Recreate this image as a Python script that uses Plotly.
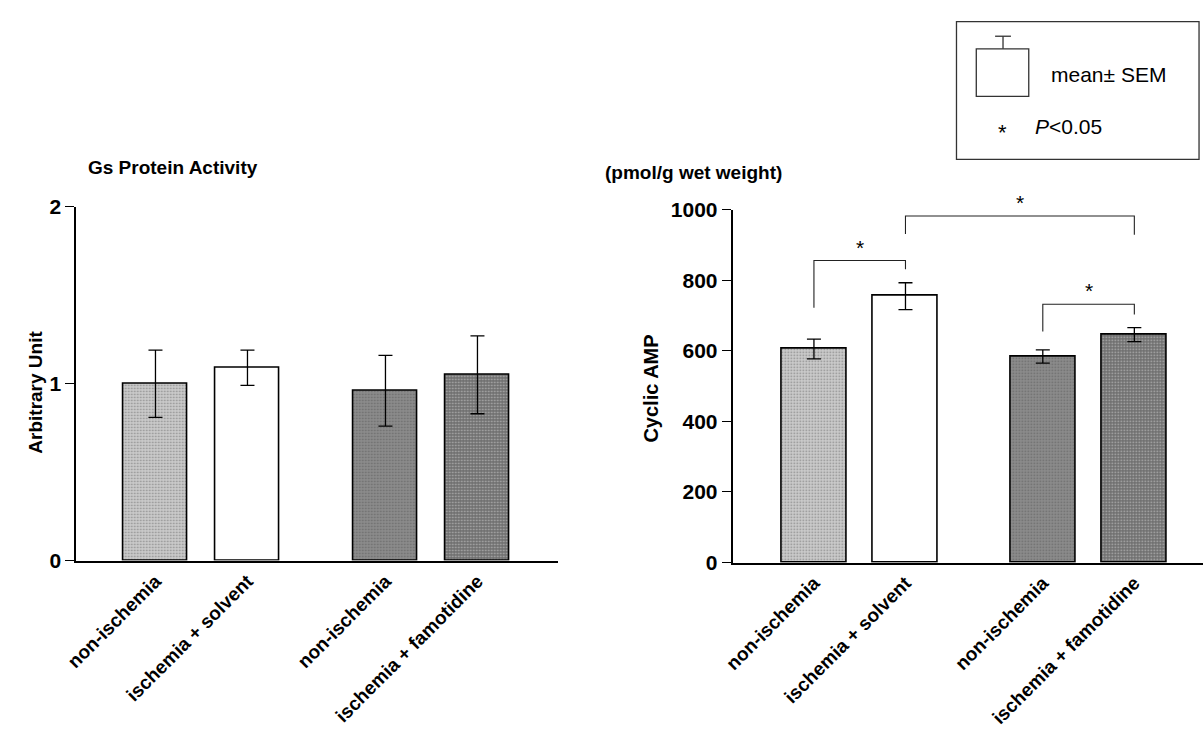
import plotly.graph_objects as go

# ---------------- data ----------------
categories = ["non-ischemia", "ischemia + solvent", "non-ischemia", "ischemia + famotidine"]
group_of_bar = [0, 0, 1, 1]

gs_mean = [1.00, 1.09, 0.96, 1.05]
gs_sem = [0.19, 0.10, 0.20, 0.22]

camp_mean = [605, 755, 584, 646]
camp_sem = [28, 38, 19, 20]

# significance brackets on the cAMP panel (bar index pairs)
sig_left = [0, 1, 2]
sig_right = [1, 3, 3]
sig_top = [856, 982, 732]
sig_left_foot = [722, 931, 655]
sig_right_foot = [831, 929, 703]

gs_ticks = [0, 1, 2]
camp_ticks = [0, 200, 400, 600, 800, 1000]

# ---------------- styles ----------------
FONT = "Liberation Sans, Arial, sans-serif"
bar_color = ["#cbcbcb", "#ffffff", "#8c8c8c", "#6f6f6f"]
bar_fg = ["#9e9e9e", "#ffffff", "#5e5e5e", "#444444"]
bar_shape = [".", "", ".", "."]

pos = [i + 0.5 * g for i, g in enumerate(group_of_bar)]

fig = go.Figure()


def add_bars(means, sems, xa, ya, width):
    fig.add_trace(go.Bar(
        x=pos, y=means, width=width, xaxis=xa, yaxis=ya,
        marker=dict(
            color=bar_color,
            line=dict(color="black", width=1.6),
            pattern=dict(shape=bar_shape, size=3, solidity=0.25,
                         fgcolor=bar_fg, fillmode="overlay"),
        ),
        error_y=dict(type="data", array=sems, visible=True,
                     color="black", thickness=1.3, width=7),
        showlegend=False, hoverinfo="skip",
    ))


add_bars(gs_mean, gs_sem, "x", "y", 0.69)
add_bars(camp_mean, camp_sem, "x2", "y2", 0.71)

# brackets
annotations = []
for l, r, top, lf, rf in zip(sig_left, sig_right, sig_top, sig_left_foot, sig_right_foot):
    fig.add_trace(go.Scatter(
        x=[pos[l], pos[l], pos[r], pos[r]], y=[lf, top, top, rf],
        mode="lines", line=dict(color="#222222", width=1.1),
        xaxis="x2", yaxis="y2", showlegend=False, hoverinfo="skip", cliponaxis=False,
    ))
    annotations.append(dict(
        x=(pos[l] + pos[r]) / 2, y=top, xref="x2", yref="y2", text="*",
        showarrow=False, xanchor="center", yanchor="bottom",
        font=dict(family=FONT, size=21, color="black"),
    ))

tickfont = dict(family=FONT, size=21, color="black", weight="bold")
catfont = dict(family=FONT, size=19, color="black", weight="bold")

common_x = dict(tickmode="array", tickvals=pos, ticktext=categories, tickangle=-45,
                tickfont=catfont, showline=True, linecolor="black", linewidth=2.2,
                ticks="", showgrid=False, zeroline=False)
common_y = dict(showline=True, linecolor="black", linewidth=2, ticks="outside",
                ticklen=9, tickwidth=1, tickcolor="black", tickfont=tickfont,
                showgrid=False, zeroline=False, tickmode="array")


def paper_note(x, y, text, size, xanchor="center", yanchor="middle", angle=0, bold=False):
    f = dict(family=FONT, size=size, color="black")
    if bold:
        f["weight"] = "bold"
    return dict(x=x / 1203, y=1 - y / 747, xref="paper", yref="paper", text=text,
                showarrow=False, xanchor=xanchor, yanchor=yanchor, textangle=angle, font=f)


annotations += [
    paper_note(75, 160, "Gs Protein Activity", 19, xanchor="left", bold=True),
    paper_note(597, 166, "(pmol/g wet weight)", 19, xanchor="left", bold=True),
    paper_note(24, 392, "Arbitrary Unit", 19, angle=-90, bold=True),
    paper_note(645, 389, "Cyclic AMP", 20, angle=-90, bold=True),
    # legend box text
    paper_note(1047, 65, "mean± SEM", 21, xanchor="left"),
    paper_note(1000, 124, "*", 22),
    paper_note(1031, 118, "<i>P</i><0.05", 21, xanchor="left"),
]

shapes = [
    dict(type="rect", xref="paper", yref="paper", x0=954 / 1203, x1=1199 / 1203,
         y0=1 - 152 / 747, y1=1 - 10 / 747, line=dict(color="#333333", width=1.3)),
    dict(type="rect", xref="paper", yref="paper", x0=974 / 1203, x1=1027 / 1203,
         y0=1 - 87 / 747, y1=1 - 38 / 747, line=dict(color="#333333", width=1.3)),
    dict(type="line", xref="paper", yref="paper", x0=1001 / 1203, x1=1001 / 1203,
         y0=1 - 38 / 747, y1=1 - 25 / 747, line=dict(color="#333333", width=1.3)),
    dict(type="line", xref="paper", yref="paper", x0=993 / 1203, x1=1009 / 1203,
         y0=1 - 25 / 747, y1=1 - 25 / 747, line=dict(color="#333333", width=1.3)),
]

fig.update_layout(
    width=1203, height=747,
    margin=dict(l=0, r=0, t=0, b=0),
    paper_bgcolor="white", plot_bgcolor="white",
    font=dict(family=FONT, color="black"),
    bargap=0,
    xaxis=dict(domain=[65 / 1203, 551 / 1203], range=[-0.86, 4.37], anchor="y", **common_x),
    yaxis=dict(domain=[1 - 566 / 747, 1 - 201 / 747], range=[0, 2], anchor="x",
               tickvals=gs_ticks, **common_y),
    xaxis2=dict(domain=[728 / 1203, 1.0], range=[-0.887, 4.25], anchor="y2", **common_x),
    yaxis2=dict(domain=[1 - 568 / 747, 1 - 204 / 747], range=[0, 1000], anchor="x2",
                tickvals=camp_ticks, **common_y),
    annotations=annotations,
    shapes=shapes,
)

fig.write_html("out.html")
